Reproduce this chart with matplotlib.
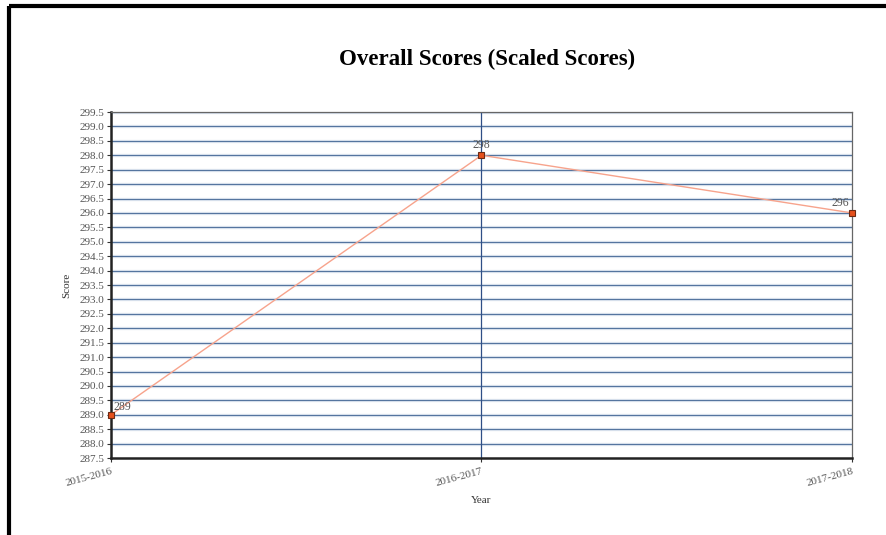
import matplotlib.pyplot as plt
from matplotlib.lines import Line2D

years = ["2015-2016", "2016-2017", "2017-2018"]
scores = [289, 298, 296]
y_ticks = [287.5 + 0.5 * i for i in range(25)]

plt.rcParams['font.family'] = ['Liberation Serif', 'DejaVu Serif']

fig = plt.figure(figsize=(8.86, 5.35), dpi=100)
ax = fig.add_axes([0.1253, 0.1439, 0.8363, 0.6467])

x = list(range(len(years)))

# horizontal grid
for t in y_ticks[1:]:
    ax.axhline(t, color='#e3eaf3', lw=2.4, zorder=1)
    ax.axhline(t, color='#55759f', lw=0.85, zorder=1.1)
ax.axvline(1, color='#2f4f86', lw=0.9, zorder=1.2)

ax.plot(x, scores, color='#f7a38c', lw=1.0, zorder=3)
ax.plot(x, scores, ls='none', marker='s', ms=4.5, mfc='#e5501c',
        mec='#6b2a14', mew=0.8, zorder=4, clip_on=False)

offsets = [(2, 1, 'left'), (0, 3, 'center'), (-2, 3, 'right')]
for xi, v, (dx, dy, ha) in zip(x, scores, offsets):
    ax.annotate(str(v), (xi, v), xytext=(dx, dy), textcoords='offset points',
                ha=ha, va='bottom', fontsize=8.5, color='#555555', zorder=5)

ax.set_xlim(0, 2)
ax.set_ylim(287.5, 299.5)
ax.set_yticks(y_ticks)
ax.set_yticklabels([f"{t:.1f}" for t in y_ticks])
ax.set_xticks(x)
ax.set_xticklabels(years, rotation=15, ha='right', rotation_mode='anchor')
ax.tick_params(axis='both', labelsize=8, colors='#333333', length=3,
               labelcolor='#555555', pad=2)
ax.tick_params(axis='x', pad=3)

for side in ['left', 'bottom']:
    ax.spines[side].set_color('#222222')
    ax.spines[side].set_linewidth(1.8)
for side in ['top', 'right']:
    ax.spines[side].set_color('#666666')
    ax.spines[side].set_linewidth(0.9)

ax.set_ylabel("Score", fontsize=8, color='#333333', labelpad=6)
ax.set_xlabel("Year", fontsize=8, color='#333333', labelpad=6)

fig.text(0.55, 0.888, "Overall Scores (Scaled Scores)", ha='center',
         va='center', fontsize=16.5, fontweight='bold', color='black')

# outer frame on the left and top edges
fig.add_artist(Line2D([0.0107, 0.0107], [0, 0.988], color='black', lw=3,
                      transform=fig.transFigure, solid_capstyle='butt'))
fig.add_artist(Line2D([0.0107, 1], [0.988, 0.988], color='black', lw=3,
                      transform=fig.transFigure, solid_capstyle='butt'))

fig.savefig("out.png", dpi=100)
